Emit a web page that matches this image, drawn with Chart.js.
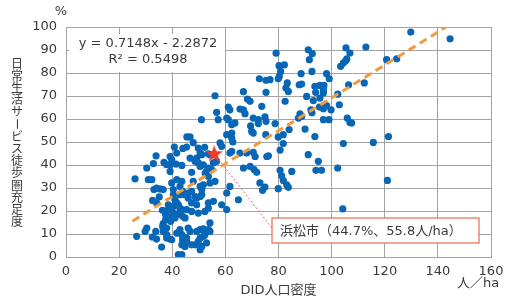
<!DOCTYPE html>
<html>
<head>
<meta charset="utf-8">
<script src="https://cdn.jsdelivr.net/npm/chart.js@4"></script>
<style>
  html, body { margin: 0; padding: 0; background: #fff; }
  #wrap { width: 511px; height: 304px; }
</style>
</head>
<body>
<div id="wrap"><canvas id="scatterChart" width="511" height="304"></canvas></div>
<script>
// DID population density (人/ha) per city
const density = [
  129.8,144.6,79.1,91.2,92.7,91.6,105.4,106.9,112.9,105.7,105.2,104.4,103.4,120.7,124.5,80.2,82.2,80.8,80.3,79.9,
  88.5,92.6,98.1,99.1,72.8,75.3,76.8,83.3,82.8,83.7,87.8,88.7,93.7,95.6,97.1,96.9,94.0,96.9,75.3,106.4,
  112.3,102.3,90.6,95.6,93.1,82.5,102.9,92.2,92.6,95.4,96.9,98.1,99.8,88.1,87.5,88.7,96.9,99.0,105.9,106.9,
  107.5,84.0,90.0,93.7,121.4,81.8,104.4,115.7,80.6,69.5,66.8,56.1,68.3,61.1,61.7,60.5,61.1,62.4,63.6,56.7,
  57.3,65.5,66.8,67.4,69.3,73.7,70.5,72.4,72.4,74.9,75.3,78.7,69.9,70.5,75.2,81.8,79.9,60.5,62.4,62.4,
  58.0,58.6,61.7,62.4,53.6,68.0,70.5,71.2,75.6,66.8,69.3,70.8,71.8,53.6,54.8,52.4,80.6,85.0,62.8,51.0,
  45.5,46.7,47.9,52.2,40.8,44.0,45.4,41.7,49.8,50.5,51.1,33.9,39.2,39.8,32.9,30.4,36.9,39.2,41.4,43.6,
  46.7,48.6,49.8,39.2,47.3,52.9,50.5,51.7,37.9,49.2,55.5,56.7,54.2,65.5,61.7,55.5,73.0,76.2,91.2,95.0,
  94.1,96.2,102.3,81.2,81.8,83.1,83.7,79.9,74.0,74.9,121.0,104.2,56.1,60.5,64.9,58.6,60.5,53.6,54.2,53.6,
  54.2,52.9,26.0,26.6,29.8,30.4,31.0,32.3,33.1,34.1,35.4,36.6,32.6,34.1,32.5,34.1,33.8,36.0,35.1,37.5,
  36.3,36.6,36.4,37.9,36.6,37.9,37.9,39.2,37.5,39.8,39.4,38.5,39.2,39.8,40.4,41.0,41.7,42.9,43.6,42.9,
  43.9,44.8,39.8,40.4,40.4,41.0,41.7,42.9,41.7,43.6,42.9,43.9,41.7,42.9,43.6,43.9,43.6,44.8,45.4,42.3,
  43.6,45.4,46.7,46.0,44.8,46.0,47.3,46.0,45.4,47.3,47.9,48.6,49.2,50.5,51.1,50.5,51.7,51.1,49.8,48.6,
  49.8,50.5,49.2,50.5,51.7,52.3,50.5,51.7,53.6,54.2,38.5,40.4,42.3,47.3,49.2,52.3,53.6,51.1,47.3
];
// 日常生活サービス徒歩圏充足度 (%) per city
const coverage = [
  97.8,94.9,88.6,90.1,88.4,85.8,90.9,88.7,91.3,86.1,85.2,84.3,82.9,85.8,86.2,83.2,83.5,80.7,78.5,77.5,
  79.7,80.7,79.7,77.5,77.5,76.8,77.1,75.7,73.5,72.0,74.9,75.2,74.2,74.6,74.6,72.7,71.6,71.3,71.6,74.9,
  75.7,70.8,69.8,69.1,68.0,67.7,66.2,64.0,62.7,65.2,64.5,65.8,64.0,62.2,60.4,61.1,59.7,59.7,60.4,58.5,
  58.3,55.4,55.6,52.4,52.4,49.3,49.3,49.8,46.5,57.0,71.9,70.1,68.7,65.2,64.0,60.4,59.7,57.5,58.3,62.9,
  59.7,64.3,64.0,62.3,67.7,65.5,60.4,59.7,58.0,60.9,59.0,58.0,54.6,53.9,53.2,53.2,52.2,53.2,53.9,51.7,
  49.6,48.1,45.2,45.9,44.9,45.2,45.5,43.7,43.7,38.7,39.4,38.0,36.8,38.7,38.0,36.5,37.7,37.2,50.0,59.7,
  52.2,52.2,49.7,47.7,47.8,47.2,47.8,45.2,47.4,45.2,44.5,44.0,43.7,42.3,40.6,38.7,41.1,40.1,40.4,39.8,
  43.0,41.6,40.9,37.2,36.8,37.2,39.4,40.1,40.1,43.0,40.9,41.6,44.5,45.2,30.7,24.2,32.2,44.0,44.5,41.6,
  37.7,37.7,38.7,35.3,33.3,31.4,30.3,29.7,29.0,30.4,33.3,20.9,32.9,27.8,24.9,22.7,20.6,21.3,14.8,11.9,
  11.1,6.1,34.0,9.0,11.1,12.6,33.6,33.6,29.3,30.0,29.6,29.3,24.6,23.5,8.7,7.8,11.1,4.3,26.1,18.4,
  20.3,14.5,13.3,12.6,11.1,9.7,8.3,7.8,16.2,7.5,15.5,20.6,21.3,17.7,19.1,17.0,18.4,19.8,20.6,21.3,
  17.7,17.0,32.2,29.3,27.1,24.9,23.5,27.1,33.6,32.9,30.7,28.5,10.4,11.9,9.7,7.5,5.3,4.6,6.8,1.0,
  1.0,8.3,11.1,12.6,27.1,27.8,28.5,25.7,20.6,19.8,32.9,26.3,25.7,26.3,27.1,30.7,31.4,29.3,19.1,5.3,
  6.8,3.2,11.1,11.9,12.2,9.7,8.3,9.0,35.0,32.2,22.7,22.0,22.7,23.5,22.7,19.8,23.5,4.6,5.3
];

// Hamamatsu
const cityName = '浜松市';
const cityDensity = [55.8];
const cityCoverage = [44.7];

// regression y = a x + b
const slope = 0.7148;
const intercept = -2.2872;
const rSquared = 0.5498;
const trendRange = [25, 144];

// leader from the star to the label box (data units)
const leaderX = [57.6, 77.5];
const leaderY = [42.2, 12.6];

const xTicks = [0, 20, 40, 60, 80, 100, 120, 140, 160];
const yTitle = '日常生活サービス徒歩圏充足度';
const xTitle = 'DID人口密度';

const FONT = "'DejaVu Sans', 'Noto Sans CJK JP', sans-serif";
const CJK = "'Noto Sans CJK JP', sans-serif";
const TEXT = '#3a3a3a';
const GRID = '#a3a3a3';

// filled red star as point image
function makeStar(r) {
  const c = document.createElement('canvas');
  c.width = c.height = r * 2 + 2;
  const g = c.getContext('2d');
  g.translate(r + 1, r + 1);
  g.beginPath();
  for (let i = 0; i < 10; i++) {
    const rad = i % 2 === 0 ? r : r * 0.42;
    const a = -Math.PI / 2 + i * Math.PI / 5;
    g.lineTo(Math.cos(a) * rad, Math.sin(a) * rad);
  }
  g.closePath();
  g.fillStyle = '#ee3b2a';
  g.fill();
  return c;
}

const points = density.map((x, i) => ({ x: x, y: coverage[i] }));
const trend = trendRange.map(x => ({ x: x, y: slope * x + intercept }));
const leader = leaderX.map((x, i) => ({ x: x, y: leaderY[i] }));
const city = cityDensity.map((x, i) => ({ x: x, y: cityCoverage[i] }));

// texts drawn outside what the axes give us
const annotations = {
  id: 'annotations',
  afterDraw(chart) {
    const ctx = chart.ctx;
    const area = chart.chartArea;
    ctx.save();
    ctx.fillStyle = TEXT;
    ctx.font = '13px ' + FONT;
    ctx.textAlign = 'center';
    ctx.textBaseline = 'middle';
    ctx.fillText('%', area.left - 5, 12);

    ctx.textAlign = 'left';
    ctx.fillText('人／ha', area.right - 34, 284);

    // vertical y title, upright characters
    ctx.font = '12px ' + CJK;
    ctx.textAlign = 'center';
    let y = 63;
    for (const ch of yTitle) {
      if (ch === 'ー') {
        ctx.save();
        ctx.translate(17, y);
        ctx.rotate(Math.PI / 2);
        ctx.fillText(ch, 0, 0);
        ctx.restore();
      } else {
        ctx.fillText(ch, 17, y);
      }
      y += 12.2;
    }

    // label box for the city
    const bx = 272, by = 218, bw = 207, bh = 25;
    ctx.fillStyle = '#ffffff';
    ctx.fillRect(bx, by, bw, bh);
    ctx.strokeStyle = '#e8775f';
    ctx.lineWidth = 1.3;
    ctx.strokeRect(bx, by, bw, bh);
    ctx.fillStyle = TEXT;
    ctx.font = '13px ' + FONT;
    ctx.textAlign = 'left';
    ctx.fillText(cityName + '（' + cityCoverage[0] + '%、' + cityDensity[0] + '人/ha）', bx + 8, by + bh / 2 + 1);
    ctx.restore();
  },
  beforeDatasetsDraw(chart) {
    // regression equation box, under the marks
    const ctx = chart.ctx;
    ctx.save();
    ctx.fillStyle = '#ffffff';
    ctx.fillRect(69, 34, 156, 38);
    ctx.fillStyle = TEXT;
    ctx.font = '13px ' + FONT;
    ctx.textAlign = 'center';
    ctx.textBaseline = 'middle';
    ctx.fillText('y = ' + slope + 'x - ' + Math.abs(intercept), 148, 44);
    ctx.fillText('R² = ' + rSquared, 148, 60);
    ctx.restore();
  }
};

const ctx = document.getElementById('scatterChart').getContext('2d');
const chart = new Chart(ctx, {
  type: 'scatter',
  data: {
    datasets: [
      {
        label: cityName,
        data: city,
        pointStyle: makeStar(9),
        pointRadius: 9
      },
      {
        label: 'trend',
        data: trend,
        showLine: true,
        borderColor: '#f39a3e',
        borderWidth: 3,
        borderDash: [8, 5],
        pointRadius: 0
      },
      {
        label: 'leader',
        data: leader,
        showLine: true,
        borderColor: '#ef6a55',
        borderWidth: 1,
        borderDash: [2, 2],
        pointRadius: 0
      },
      {
        label: 'cities',
        data: points,
        backgroundColor: '#0766b6',
        borderWidth: 0,
        pointRadius: 3.6
      }
    ]
  },
  options: {
    responsive: false,
    animation: false,
    layout: { padding: { top: 27, right: 20, bottom: 0, left: 0 } },
    plugins: {
      legend: { display: false },
      tooltip: { enabled: false }
    },
    scales: {
      x: {
        type: 'linear',
        min: 0,
        max: 160,
        afterFit: s => { s.height = 47; },
        afterBuildTicks: s => { s.ticks = xTicks.map(v => ({ value: v })); },
        grid: { color: GRID, drawTicks: false },
        border: { color: GRID },
        ticks: { padding: 7, color: TEXT, font: { family: FONT, size: 13 } },
        title: {
          display: true,
          text: xTitle,
          color: TEXT,
          font: { family: FONT, size: 13 },
          padding: { top: 0, bottom: 6 }
        }
      },
      y: {
        type: 'linear',
        min: 0,
        max: 100,
        afterFit: s => { s.width = 66; },
        grid: { color: GRID, drawTicks: false },
        border: { color: GRID },
        ticks: { stepSize: 10, padding: 9, color: TEXT, font: { family: FONT, size: 13 } }
      }
    }
  },
  plugins: [annotations]
});
</script>
</body>
</html>
